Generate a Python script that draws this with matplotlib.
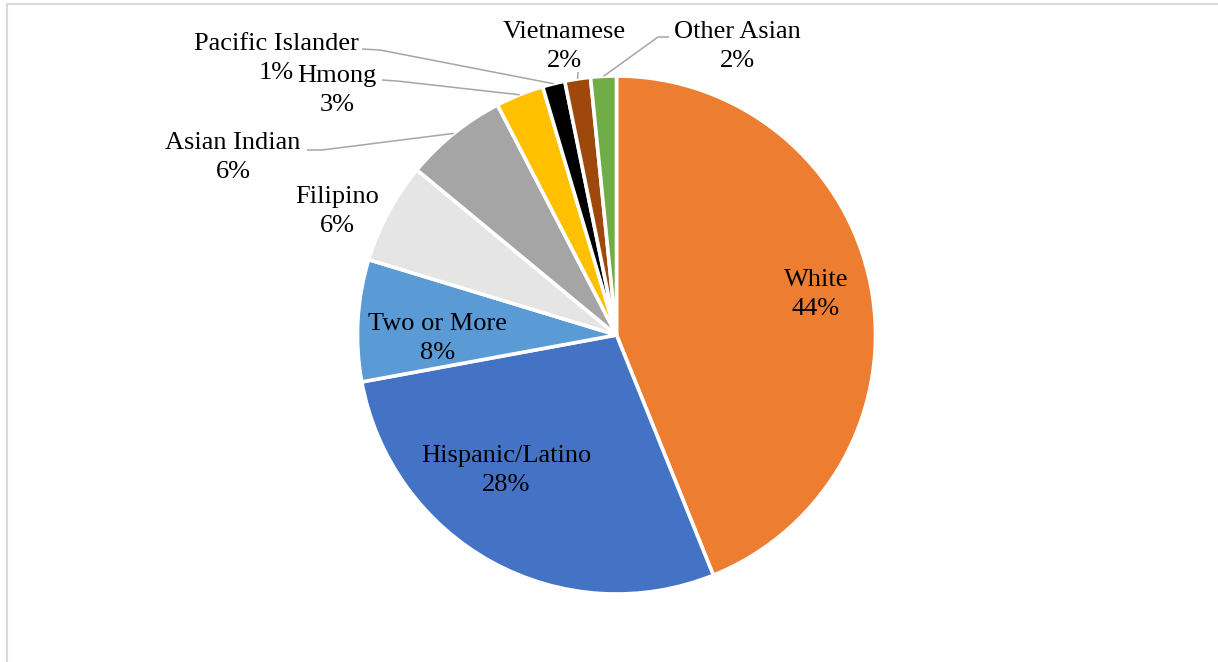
import matplotlib.pyplot as plt
from matplotlib.lines import Line2D
import numpy as np

plt.rcParams['font.family'] = ['Liberation Serif', 'DejaVu Serif']

W, H = 1218, 662

groups = ['White', 'Hispanic/Latino', 'Two or More', 'Filipino', 'Asian Indian',
          'Hmong', 'Pacific Islander', 'Vietnamese', 'Other Asian']
shares = [43.9, 28.2, 7.6, 6.3, 6.4, 3.0, 1.4, 1.6, 1.6]
colors = ['#ED7D31', '#4472C4', '#5B9BD5', '#E5E5E5', '#A5A5A5',
          '#FFC000', '#000000', '#9E480E', '#70AD47']

# label x centre and baseline of the first line, in pixels from the top-left
label_pos = [(816, 286), (506, 462), (438, 330), (337, 203), (233, 149),
             (337, 82), (276, 50), (564, 38), (737, 38)]
line_gap = 29
# leader lines: text end, elbow (None = straight down to the slice)
leaders = {
    'Pacific Islander': ((362, 49), (380, 50)),
    'Hmong': ((382, 80), (397, 81)),
    'Asian Indian': ((307, 150), (322, 150)),
    'Vietnamese': ((578, 72), None),
    'Other Asian': ((669, 37), (658, 37)),
}

cx, cy, R = 616.5, 335, 259


def sy(y):
    return H - y


fig = plt.figure(figsize=(W / 100, H / 100), dpi=100)
ax = fig.add_axes([0, 0, 1, 1])

wedges, _ = ax.pie(shares, colors=colors, startangle=90, counterclock=False,
                   center=(cx, sy(cy)), radius=R, frame=True,
                   wedgeprops=dict(edgecolor='white', linewidth=2.6))
ax.set_xlim(0, W)
ax.set_ylim(0, H)
ax.set_aspect('equal')
ax.axis('off')

for w, name, val, (lx, ly) in zip(wedges, groups, shares, label_pos):
    ax.text(lx, sy(ly), name, ha='center', va='baseline', fontsize=19)
    ax.text(lx, sy(ly + line_gap), f'{val:.0f}%', ha='center', va='baseline',
            fontsize=19)
    if name in leaders:
        start, elbow = leaders[name]
        mid = np.deg2rad((w.theta1 + w.theta2) / 2)
        ex, ey = cx + R * np.cos(mid), sy(cy) + R * np.sin(mid)
        pts = [start] + ([elbow] if elbow else [])
        xs = [p[0] for p in pts] + [ex]
        ys = [sy(p[1]) for p in pts] + [ey]
        ax.plot(xs, ys, color='#A6A6A6', lw=1.1, solid_capstyle='butt')

# chart area border (top and left edges visible)
ax.add_line(Line2D([6.5, 6.5], [0, sy(3.5)], color='#D9D9D9', lw=1.5))
ax.add_line(Line2D([6.5, W], [sy(3.5), sy(3.5)], color='#D9D9D9', lw=1.5))

fig.savefig('out.png', dpi=100, facecolor='white')
